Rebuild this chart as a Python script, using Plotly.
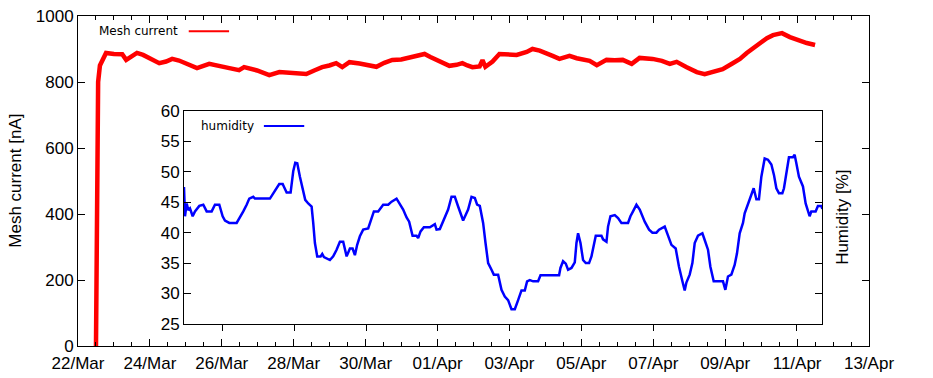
import pandas as pd
import plotly.graph_objects as go

START = pd.Timestamp("2023-03-22")

# mesh current: time in days after 22/Mar 00:00, current in nA
mesh_days = [0.50, 0.53, 0.56, 0.61, 0.70, 0.78, 1.00, 1.23, 1.34, 1.48, 1.64, 1.81, 1.98,
             2.26, 2.45, 2.62, 2.81, 3.01, 3.31, 3.65, 3.93, 4.21, 4.48, 4.62, 4.98, 5.32,
             5.60, 5.88, 6.15, 6.35, 6.57, 6.79, 6.99, 7.18, 7.35, 7.55, 7.83, 8.10, 8.30,
             8.52, 8.74, 8.99, 9.22, 9.44, 9.64, 9.80, 9.97, 10.16, 10.33, 10.53, 10.69,
             10.83, 10.97, 11.17, 11.25, 11.33, 11.53, 11.72, 11.95, 12.20, 12.48, 12.64,
             12.84, 13.03, 13.20, 13.39, 13.67, 13.87, 14.04, 14.23, 14.43, 14.70, 14.93,
             15.15, 15.40, 15.62, 15.98, 16.24, 16.46, 16.65, 16.93, 17.21, 17.43, 17.77,
             17.93, 18.21, 18.41, 18.60, 18.88, 19.16, 19.33, 19.58, 19.80, 20.08, 20.27, 20.50]
mesh_current = [0, 750, 800, 850, 875, 888, 885, 884, 867, 875, 888, 882, 873,
                857, 862, 870, 865, 857, 842, 855, 850, 842, 836, 845, 835, 821,
                830, 828, 827, 824, 835, 845, 850, 857, 845, 860, 856, 851, 846,
                858, 867, 868, 873, 878, 885, 876, 867, 858, 849, 852, 857,
                850, 845, 847, 866, 846, 862, 885, 884, 882, 891, 900,
                895, 888, 879, 870, 879, 872, 867, 864, 851, 867, 866,
                867, 855, 873, 870, 864, 855, 861, 845, 830, 824, 833,
                839, 857, 870, 888, 912, 933, 942, 948, 936, 924, 918, 912]

# humidity: time in days after 22/Mar 00:00, relative humidity in %
hum_days = [2.924, 2.952, 2.999, 3.045, 3.091, 3.166, 3.230, 3.351, 3.462, 3.556, 3.695,
            3.787, 3.908, 4.001, 4.066, 4.186, 4.391, 4.484, 4.576, 4.670, 4.743, 4.854,
            4.901, 5.319, 5.411, 5.506, 5.578, 5.673, 5.784, 5.895, 5.968, 6.024, 6.080,
            6.154, 6.230, 6.302, 6.386, 6.480, 6.525, 6.572, 6.636, 6.731, 6.776, 6.823,
            6.990, 7.082, 7.176, 7.268, 7.360, 7.455, 7.547, 7.622, 7.686, 7.750, 7.825,
            7.917, 8.056, 8.151, 8.215, 8.335, 8.474, 8.614, 8.708, 8.847, 8.939, 9.031,
            9.126, 9.198, 9.293, 9.404, 9.449, 9.516, 9.608, 9.775, 9.914, 9.961, 10.053,
            10.193, 10.284, 10.379, 10.471, 10.563, 10.702, 10.841, 10.936, 11.028, 11.092,
            11.167, 11.259, 11.326, 11.399, 11.493, 11.557, 11.677, 11.771, 11.863, 11.955,
            12.050, 12.142, 12.234, 12.328, 12.420, 12.484, 12.560, 12.652, 12.791, 12.858,
            13.117, 13.376, 13.414, 13.487, 13.562, 13.626, 13.721, 13.813, 13.860, 13.905,
            13.972, 14.044, 14.119, 14.211, 14.278, 14.342, 14.398, 14.556, 14.601, 14.696,
            14.740, 14.807, 14.927, 15.019, 15.113, 15.297, 15.364, 15.436, 15.531, 15.623,
            15.762, 15.883, 15.977, 16.088, 16.161, 16.319, 16.411, 16.506, 16.625, 16.717,
            16.812, 16.876, 16.923, 17.015, 17.090, 17.155, 17.246, 17.369, 17.433, 17.525,
            17.592, 17.684, 17.943, 18.009, 18.082, 18.176, 18.268, 18.333, 18.408, 18.500,
            18.547, 18.639, 18.734, 18.798, 18.873, 18.945, 19.012, 19.104, 19.196, 19.291,
            19.363, 19.430, 19.502, 19.597, 19.642, 19.708, 19.781, 19.892, 19.939, 19.987,
            20.059, 20.171, 20.246, 20.357, 20.404, 20.524, 20.588, 20.683, 20.711]
humidity = [47.5, 42.7, 44.8, 43.7, 44.0, 42.7, 43.5, 44.4, 44.6, 43.5, 43.5,
            44.6, 44.6, 42.7, 42.0, 41.6, 41.6, 42.5, 43.5, 44.6, 45.6, 45.9,
            45.6, 45.6, 46.5, 47.5, 48.0, 48.0, 46.6, 46.6, 50.1, 51.5, 51.4,
            49.2, 47.3, 45.4, 44.8, 44.3, 41.6, 38.3, 36.1, 36.1, 36.5, 36.0,
            35.5, 36.1, 37.2, 38.5, 38.5, 36.1, 37.4, 37.4, 36.3, 38.0, 39.4,
            40.5, 40.7, 42.4, 43.5, 43.5, 44.6, 44.6, 45.1, 45.6, 44.6, 43.8,
            42.5, 41.8, 39.5, 39.5, 39.1, 40.2, 40.9, 40.9, 41.4, 40.5, 40.6,
            42.4, 43.8, 45.9, 45.9, 44.3, 42.0, 43.8, 45.9, 45.7, 44.6,
            44.4, 41.6, 38.3, 35.0, 33.9, 33.1, 33.1, 30.6, 29.5, 28.9,
            27.4, 27.4, 28.9, 30.5, 30.5, 32.0, 32.2, 32.0, 32.0, 33.0,
            33.0, 33.0, 34.2, 35.3, 34.9, 33.9, 34.2, 35.1, 38.3, 39.9,
            38.3, 35.5, 35.0, 35.0, 36.1, 38.0, 39.5, 39.5, 38.9, 38.5,
            41.0, 42.7, 42.9, 42.4, 41.6, 41.6, 42.7, 43.5, 44.6, 43.8,
            41.8, 40.5, 40.0, 40.0, 40.5, 41.0, 39.6, 38.0, 37.4, 34.4,
            32.0, 30.5, 31.8, 33.1, 35.0, 38.3, 39.5, 39.9, 38.8, 37.2,
            34.4, 32.0, 32.0, 30.6, 32.8, 33.1, 34.7, 36.6, 39.9, 41.6,
            43.2, 44.6, 46.2, 47.3, 45.5, 45.5, 49.2, 52.2, 52.0, 51.2,
            49.5, 47.3, 46.5, 46.5, 47.3, 49.8, 52.4, 52.4, 52.8, 51.4,
            49.2, 47.6, 44.8, 42.7, 43.5, 43.5, 44.4, 44.4, 43.9]

mesh_t = START + pd.to_timedelta(mesh_days, unit="D")
hum_t = START + pd.to_timedelta(hum_days, unit="D")

TICK_FONT = dict(family="Liberation Sans, Arial, sans-serif", size=17, color="black")
KEY_FONT = dict(family="DejaVu Sans, sans-serif", size=12, color="black")
TWO_DAYS = 2 * 24 * 3600 * 1000

fig = go.Figure()
fig.add_trace(go.Scatter(x=mesh_t, y=mesh_current, mode="lines",
                         line=dict(color="#ff0000", width=4.5), xaxis="x", yaxis="y"))
fig.add_trace(go.Scatter(x=hum_t, y=humidity, mode="lines",
                         line=dict(color="#0000ff", width=2.5), xaxis="x2", yaxis="y2"))

axis_common = dict(showline=True, linecolor="black", linewidth=1, showgrid=False,
                   zeroline=False, tickcolor="black", tickfont=TICK_FONT, automargin=False)

fig.update_layout(
    width=933, height=378,
    margin=dict(l=78, r=64, t=16, b=32),
    paper_bgcolor="white", plot_bgcolor="white",
    showlegend=False,
    xaxis=dict(**axis_common, type="date", range=[START, START + pd.Timedelta(days=22)],
               tick0=START, dtick=TWO_DAYS, tickformat="%d/%b", ticks="inside",
               ticklen=7, mirror="ticks", ticklabelstandoff=2,
               minor=dict(dtick=TWO_DAYS / 4, ticklen=4, tickcolor="black", ticks="inside")),
    yaxis=dict(**axis_common, range=[0, 1000], dtick=200, ticks="inside", ticklen=7,
               mirror="ticks"),
    xaxis2=dict(**axis_common, type="date", anchor="y2", domain=[0.134, 0.941],
                range=[hum_t.min(), hum_t.max()], tick0=START, dtick=TWO_DAYS,
                ticks="outside", ticklen=6, showticklabels=False, mirror=True),
    yaxis2=dict(**axis_common, anchor="x2", domain=[0.067, 0.712], range=[25, 60],
                dtick=5, ticks="inside", ticklen=7, mirror="ticks"),
)

fig.add_annotation(text="Mesh current [nA]", xref="paper", yref="paper", x=-0.08, y=0.5,
                   xanchor="center", yanchor="middle",
                   textangle=-90, showarrow=False, font=TICK_FONT)
fig.add_annotation(text="Humidity [%]", xref="paper", yref="paper", x=0.967, y=0.391,
                   xanchor="center", yanchor="middle",
                   textangle=-90, showarrow=False, font=TICK_FONT)

# gnuplot-style keys: label followed by a line sample
fig.add_annotation(text="Mesh current", xref="paper", yref="paper", x=0.129, y=0.954,
                   xanchor="right", yanchor="middle", showarrow=False, font=KEY_FONT)
fig.add_shape(type="line", xref="paper", yref="paper", x0=0.140, x1=0.191, y0=0.954, y1=0.954,
              line=dict(color="#ff0000", width=2))
fig.add_annotation(text="humidity", xref="paper", yref="paper", x=0.225, y=0.667,
                   xanchor="right", yanchor="middle", showarrow=False, font=KEY_FONT)
fig.add_shape(type="line", xref="paper", yref="paper", x0=0.235, x1=0.286, y0=0.667, y1=0.667,
              line=dict(color="#0000ff", width=2))

# drop the default body margin so the figure sits at the window's corner
fig.write_html("out.html", config={"displayModeBar": False},
               post_script="document.body.style.margin='0';document.body.style.overflow='hidden';")
